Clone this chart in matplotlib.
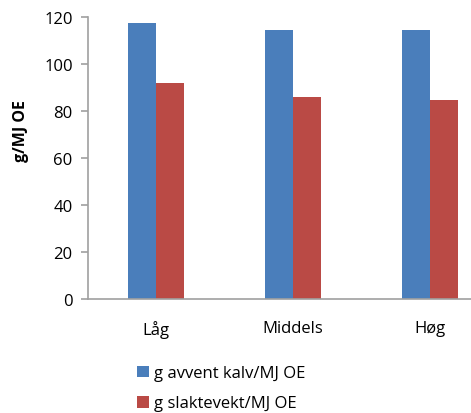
import numpy as np
import matplotlib
matplotlib.use("Agg")
import matplotlib.pyplot as plt

# data
categories = ["Låg", "Middels", "Høg"]
kalv = [117.5, 114.5, 114.5]
slakt = [92.0, 86.0, 84.8]
series_names = ["g avvent kalv/MJ OE", "g slaktevekt/MJ OE"]

plt.rcParams["font.family"] = ["Open Sans", "DejaVu Sans"]

fig = plt.figure(figsize=(4.71, 4.14), dpi=100)
# axes runs past the right edge, like the cropped original
ax = fig.add_axes([88 / 471, 114 / 414, 410 / 471, 282 / 414])

x = np.arange(len(categories))
w = 0.204
ax.bar(x - w / 2, kalv, w, color="#4A7EBB", label=series_names[0])
ax.bar(x + w / 2, slakt, w, color="#BA4A45", label=series_names[1])

ax.set_xlim(-0.5, 2.5)
ax.set_ylim(0, 120)
ax.set_yticks(range(0, 121, 20))
ax.set_xticks(x)
ax.set_xticklabels(categories)

for s in ["top", "right"]:
    ax.spines[s].set_visible(False)
for s in ["left", "bottom"]:
    ax.spines[s].set_color("#A0A0A0")
    ax.spines[s].set_linewidth(1.2)
ax.tick_params(axis="y", length=5, color="#A0A0A0", width=1.2, labelsize=12, pad=6)
ax.tick_params(axis="x", length=0, labelsize=12, pad=15)

fig.text(21 / 471, 1 - 131 / 414, "g/MJ OE", rotation=90, fontsize=11.5,
         fontweight="bold", ha="center", va="center")

fig.legend(loc="upper left", bbox_to_anchor=(129 / 471, 1 - 358 / 414),
           frameon=False, fontsize=12, handlelength=0.7, handleheight=0.7,
           handletextpad=0.3, labelspacing=0.85, borderpad=0)

fig.savefig("out.png", dpi=100)
